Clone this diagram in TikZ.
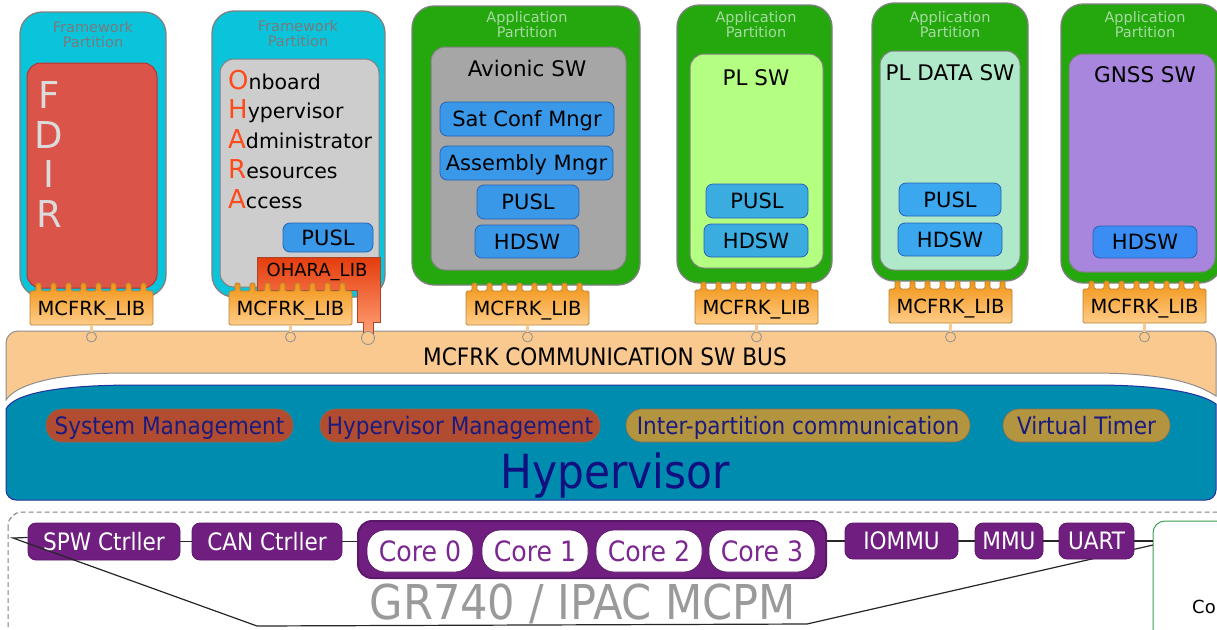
\documentclass[tikz,border=0pt]{standalone}
\usepackage{fontspec}
\setmainfont{DejaVu Sans}
\newfontfamily\condfont{DejaVu Sans Condensed}

\definecolor{fwcyan}{HTML}{0AC4DC}
\definecolor{appgreen}{HTML}{24A80E}
\definecolor{edgegray}{HTML}{808080}
\definecolor{fdirred}{HTML}{DA5449}
\definecolor{fdiredge}{HTML}{B5342C}
\definecolor{oharagray}{HTML}{CDCDCD}
\definecolor{avgray}{HTML}{A6A6A6}
\definecolor{plgreen}{HTML}{B4FF82}
\definecolor{pldata}{HTML}{B0E9C9}
\definecolor{gnss}{HTML}{A886DD}
\definecolor{bluefill}{HTML}{3A98E9}
\definecolor{blueedge}{HTML}{2762B5}
\definecolor{plblue}{HTML}{3AACDF}
\definecolor{pldblue}{HTML}{3AA7EF}
\definecolor{gnssblue}{HTML}{3A8DF2}
\definecolor{libtop}{HTML}{F29516}
\definecolor{libbot}{HTML}{FFCC88}
\definecolor{libedge}{HTML}{B98436}
\definecolor{oharatop}{HTML}{E53C0C}
\definecolor{oharabot}{HTML}{FF9E74}
\definecolor{oharaedge}{HTML}{A8452A}
\definecolor{oharared}{HTML}{FF4A1A}
\definecolor{busfill}{HTML}{F9C98F}
\definecolor{busedge}{HTML}{8E8E8E}
\definecolor{hypfill}{HTML}{008CAE}
\definecolor{hypedge}{HTML}{24309E}
\definecolor{mgmtred}{HTML}{B14C30}
\definecolor{mgmttan}{HTML}{B3943F}
\definecolor{mgmtedge}{HTML}{8B6A4E}
\definecolor{navy}{HTML}{1B1B7E}
\definecolor{hyptext}{HTML}{101080}
\definecolor{hwpurple}{HTML}{701F80}
\definecolor{hwedge}{HTML}{5B1768}
\definecolor{coretext}{HTML}{7B2890}
\definecolor{grtext}{HTML}{9A9A9A}
\definecolor{greenedge}{HTML}{3AA050}
\definecolor{fwlabel}{HTML}{7A7A7A}
\definecolor{applabel}{HTML}{A6DAA2}
\definecolor{linkgray}{HTML}{262626}

\tikzset{
  fwpart/.style={draw=edgegray, line width=1.3pt, fill=fwcyan, rounded corners=22pt},
  appart/.style={draw=edgegray, line width=1.3pt, fill=appgreen, rounded corners=22pt},
  inbox/.style={draw=edgegray, line width=1pt, rounded corners=14pt},
  partlbl/.style={align=center, inner sep=0, font=\fontsize{14.5}{15}\selectfont},
  swlbl/.style={inner sep=0, text height=15.7pt, text depth=0pt, font=\fontsize{21.5}{24}\selectfont},
  bluebox/.style={draw=blueedge, line width=0.8pt, fill=bluefill, rounded corners=7pt, inner sep=0,
    text height=15.3pt, text depth=0pt, font=\fontsize{21}{24}\selectfont},
  fdirlbl/.style={inner sep=0, anchor=base, text=white!86!black, font=\fontsize{37}{40}\selectfont},
  oharalbl/.style={inner sep=0, anchor=base west, font=\fontsize{20.5}{22}\selectfont},
  libtext/.style={inner sep=0, minimum width=123pt, minimum height=34pt, text height=14.2pt, text depth=0pt,
    font=\fontsize{19.5}{22}\selectfont},
  libshape/.style={draw=libedge, line width=0.8pt, top color=libtop, bottom color=libbot, rounded corners=1.5pt},
  sock/.style={circle, draw=busedge, line width=0.8pt, fill=busfill, inner sep=0, minimum size=10pt},
  stem/.style={draw=busedge, line width=0.6pt, double=busfill, double distance=2.5pt},
  pill/.style={rounded corners=16pt, inner sep=0, minimum height=33pt, draw=mgmtedge, line width=0.6pt,
    text height=17.5pt, text depth=0pt, text=navy, font=\condfont\fontsize{24}{28}\selectfont},
  hwbox/.style={fill=hwpurple, draw=hwedge, line width=0.8pt, rounded corners=8pt, inner sep=0,
    minimum height=37pt, text height=17.5pt, text depth=0pt, text=white, font=\condfont\fontsize{24}{28}\selectfont},
  corepill/.style={fill=white, draw=hwedge, line width=0.8pt, rounded corners=18pt, minimum width=106pt,
    minimum height=42pt, inner sep=0, text height=20.4pt, text depth=0pt, text=coretext,
    font=\condfont\fontsize{28}{32}\selectfont},
  link/.style={draw=linkgray, line width=1.4pt},
  zoomline/.style={draw=linkgray, line width=1.2pt},
}

% MCFRK_LIB block with its crenellated top: name, left x, body top y
\newcommand\libbox[3]{%
  \draw[libshape] (#2,#3+34) -- (#2,#3)
    \foreach \k in {0,...,7}{ -- ({#2+6+15*\k},#3) -- ++(0,-8) -- ++(5,0) -- ++(0,8) }
    -- (#2+123,#3) -- (#2+123,#3+34) -- cycle;
  \node[libtext] (#1) at (#2+61.5,#3+17) {MCFRK\_LIB};
}

\begin{document}
\begin{tikzpicture}[x=1pt,y=-1pt]
\useasboundingbox (0,0) rectangle (1217,629);
\fill[white] (0,0) rectangle (1217,629);
\clip (0,0) rectangle (1217,629);

% ---------------- partitions ----------------
% framework partition: FDIR
\draw[fwpart] (20,12) rectangle (166,297);
\node[partlbl, text=fwlabel] (fw1lbl) at (93,35) {Framework\\Partition};
\draw[inbox, fill=fdirred, draw=fdiredge] (27,63) rectangle (157,288);
\node[fdirlbl] (fdF) at (49,108) {F};
\node[fdirlbl] (fdD) at (49,148) {D};
\node[fdirlbl] (fdI) at (49,187) {I};
\node[fdirlbl] (fdR) at (49,227) {R};

% framework partition: OHARA
\draw[fwpart] (212,11) rectangle (385,297);
\node[partlbl, text=fwlabel] (fw2lbl) at (298,33.5) {Framework\\Partition};
\draw[inbox, fill=oharagray] (220,59) rectangle (379,287);
\newcommand\initial[1]{{\fontsize{26}{26}\selectfont\color{oharared}#1}}
\node[oharalbl] (oh1) at (228,89) {\initial{O}nboard};
\node[oharalbl] (oh2) at (228,118.5) {\initial{H}ypervisor};
\node[oharalbl] (oh3) at (228,148) {\initial{A}dministrator};
\node[oharalbl] (oh4) at (228,178) {\initial{R}esources};
\node[oharalbl] (oh5) at (228,208) {\initial{A}ccess};
\node[bluebox, minimum width=90pt, minimum height=29pt] (pusl2) at (328,237.5) {PUSL};

% application partition: avionic SW
\draw[appart] (412,6) rectangle (640,285);
\node[partlbl, text=applabel] (ap3lbl) at (527,25) {Application\\Partition};
\draw[inbox, fill=avgray] (431,47) rectangle (626,270);
\node[swlbl] (avsw) at (527,68.5) {Avionic SW};
\node[bluebox, minimum width=174pt, minimum height=34pt] (satconf) at (527,119) {Sat Conf Mngr};
\node[bluebox, minimum width=173pt, minimum height=34pt] (assembly) at (526.5,163) {Assembly Mngr};
\node[bluebox, minimum width=102pt, minimum height=34pt] (pusl3) at (528,202) {PUSL};
\node[bluebox, minimum width=104pt, minimum height=33pt] (hdsw3) at (527,241.5) {HDSW};

% application partition: PL SW
\draw[appart] (677,5) rectangle (832,283);
\node[partlbl, text=applabel] (ap4lbl) at (756,25) {Application\\Partition};
\draw[inbox, fill=plgreen] (690,54) rectangle (823,268);
\node[swlbl] (plsw) at (756,78) {PL SW};
\node[bluebox, fill=plblue, minimum width=102pt, minimum height=34pt] (pusl4) at (757,201) {PUSL};
\node[bluebox, fill=plblue, minimum width=104pt, minimum height=33pt] (hdsw4) at (756,240.5) {HDSW};

% application partition: PL DATA SW
\draw[appart] (872,3) rectangle (1028,281);
\node[partlbl, text=applabel] (ap5lbl) at (950,25) {Application\\Partition};
\draw[inbox, fill=pldata] (880,51) rectangle (1020,270);
\node[swlbl] (pldsw) at (950,73) {PL DATA SW};
\node[bluebox, fill=pldblue, minimum width=102pt, minimum height=33pt] (pusl5) at (950,199.5) {PUSL};
\node[bluebox, fill=pldblue, minimum width=104pt, minimum height=33pt] (hdsw5) at (950,239.5) {HDSW};

% application partition: GNSS SW
\draw[appart] (1061,4) rectangle (1222,283);
\node[partlbl, text=applabel] (ap6lbl) at (1145,25) {Application\\Partition};
\draw[inbox, fill=gnss] (1069,54) rectangle (1215,272);
\node[swlbl] (gnsssw) at (1145,75) {GNSS SW};
\node[bluebox, fill=gnssblue, minimum width=104pt, minimum height=32pt] (hdsw6) at (1145,242) {HDSW};

% ---------------- communication bus ----------------
\draw[fill=busfill, draw=busedge, line width=1pt]
  (6,400) [rounded corners=12pt] -- (6,331) -- (1216,331) [sharp corners] -- (1216,396)
  .. controls (1190,379) and (1150,373) .. (1090,373) -- (125,373)
  .. controls (50,373) and (15,386) .. (6,400) -- cycle;
\node[inner sep=0, text height=17.5pt, text depth=0pt, font=\condfont\fontsize{24}{28}\selectfont] (buslbl) at (605,357) {MCFRK COMMUNICATION SW BUS};

% ---------------- hypervisor ----------------
\draw[fill=hypfill, draw=hypedge, line width=1pt]
  (6,409) .. controls (14,393) and (60,385) .. (135,385) -- (1095,385)
  .. controls (1165,385) and (1203,394) .. (1216,404)
  [rounded corners=10pt] -- (1216,500) -- (6,500) -- (6,420) [sharp corners] -- cycle;
\node[pill, fill=mgmtred, minimum width=247pt] (sysmgmt) at (169.5,425.5) {System Management};
\node[pill, fill=mgmtred, minimum width=280pt] (hypmgmt) at (460,425.5) {Hypervisor Management};
\node[pill, fill=mgmttan, minimum width=344pt] (ipc) at (798,425.5) {Inter-partition communication};
\node[pill, fill=mgmttan, minimum width=167pt] (vtimer) at (1086.5,425.5) {Virtual Timer};
\node[inner sep=0, anchor=base, text=hyptext, font=\condfont\fontsize{47}{50}\selectfont] (hyplbl) at (615,488) {Hypervisor};

% ---------------- OHARA_LIB ----------------
\draw[draw=oharaedge, line width=0.8pt, top color=oharatop, bottom color=oharabot]
  (257,257) -- (380,257) -- (380,322) -- (373,322) -- (373,333) -- (363,333) -- (363,322)
  -- (357,322) -- (357,290) -- (257,290) -- cycle;
\node[inner sep=0, text height=13.1pt, text depth=0pt, font=\fontsize{18}{20}\selectfont] (oharalib) at (317,270) {OHARA\_LIB};
\node[sock, minimum size=13pt] (osock) at (368,338) {};

% ---------------- MCFRK_LIB blocks and bus sockets ----------------
\libbox{lib1}{30}{291}
\libbox{lib2}{229}{291}
\libbox{lib3}{466}{291}
\libbox{lib4}{695}{290}
\libbox{lib5}{889}{289}
\libbox{lib6}{1083}{289}
\foreach \i/\x in {1/91.5, 2/290.5, 3/527.5, 4/756.5, 5/950.5, 6/1144.5}{
  \node[sock] (s\i) at (\x,337) {};
  \draw[stem] (lib\i.south) -- (s\i.north);
}

% ---------------- GR740 platform ----------------
\draw[draw=edgegray, line width=1pt, dash pattern=on 5pt off 3pt, rounded corners=14pt] (8,512) rectangle (1232,645);
\node[inner sep=0, anchor=base, text=grtext, font=\condfont\fontsize{48}{52}\selectfont] (grlbl) at (583,619) {GR740 / IPAC MCPM};

\coordinate (apexL) at (13,538);
\coordinate (botL) at (257,626);
\coordinate (botR) at (807,624);
\coordinate (coLow) at (1153,545);

% outline of the green box on the right
\draw[draw=greenedge, line width=1pt, fill=white, rounded corners=12pt] (1153,660) -- (1153,521) -- (1240,521);
\node[inner sep=0, anchor=base west, font=\fontsize{18}{20}\selectfont] (colbl) at (1192,613) {Co};

\node[hwbox, minimum width=152pt] (spw) at (104,541.5) {SPW Ctrller};
\draw[zoomline] ([yshift=4pt]spw.west) -- (apexL) -- (botL) -- (botR) -- (coLow);

\node[hwbox, minimum width=150pt] (can) at (267,541.5) {CAN Ctrller};
\node[fill=hwpurple, draw=hwedge, line width=2pt, rounded corners=14pt, minimum width=468pt, minimum height=57pt, inner sep=0] (corebox) at (592,549.5) {};
\node[corepill] (core0) at (420,551) {Core 0};
\node[corepill] (core1) at (535,551) {Core 1};
\node[corepill] (core2) at (649,551) {Core 2};
\node[corepill] (core3) at (762,551) {Core 3};
\node[hwbox, minimum width=113pt, minimum height=36pt] (iommu) at (901.5,541) {IOMMU};
\node[hwbox, minimum width=68pt, minimum height=36pt] (mmu) at (1009,541) {MMU};
\node[hwbox, minimum width=75pt, minimum height=36pt] (uart) at (1096.5,541) {UART};
\coordinate (coL) at (1153,541);

\draw[link] (spw.east) -- (can.west);
\draw[link] (can.east) -- (can.east -| corebox.west);
\draw[link] (corebox.east |- iommu.west) -- (iommu.west);
\draw[link] (iommu.east) -- (mmu.west);
\draw[link] (mmu.east) -- (uart.west);
\draw[link] (uart.east) -- (coL);
\end{tikzpicture}
\end{document}
